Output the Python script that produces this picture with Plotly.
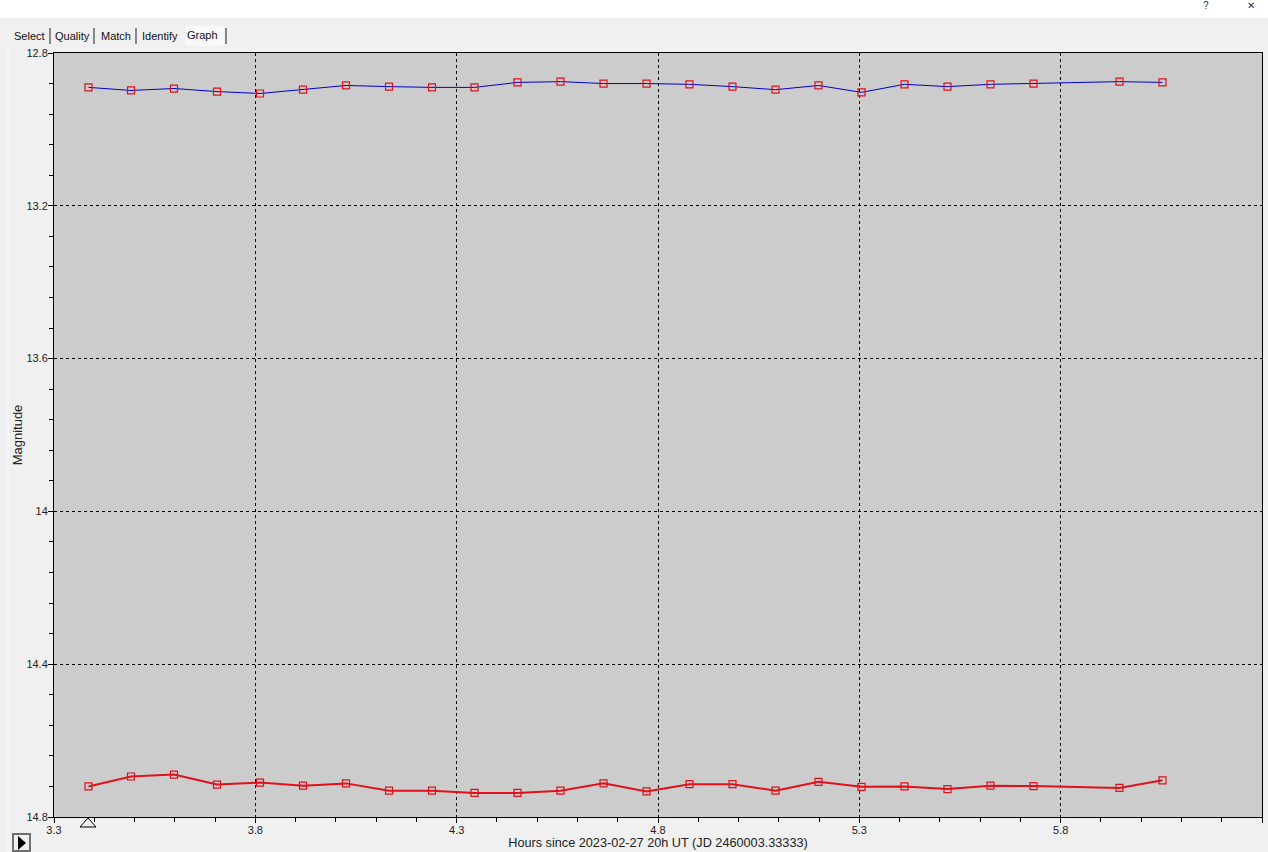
import plotly.graph_objects as go

W, H = 1268, 852
L, R, T, B = 54, 1262, 53, 817
FONT = "Liberation Sans"

hours = [3.3857, 3.4912, 3.598, 3.7048, 3.8116, 3.9184, 4.0252, 4.132, 4.2387, 4.3443,
         4.4511, 4.5579, 4.6647, 4.7715, 4.8782, 4.985, 5.0918, 5.1986, 5.3054, 5.4122,
         5.5189, 5.6257, 5.7325, 5.9461, 6.0529]
comparison_mag = [12.890, 12.898, 12.893, 12.901, 12.906, 12.896, 12.885, 12.888, 12.890, 12.890,
                  12.877, 12.875, 12.880, 12.880, 12.882, 12.888, 12.896, 12.885, 12.903, 12.882,
                  12.888, 12.882, 12.880, 12.875, 12.877]
target_mag = [14.720, 14.694, 14.689, 14.715, 14.710, 14.718, 14.712, 14.731, 14.731, 14.737,
              14.737, 14.731, 14.712, 14.733, 14.714, 14.714, 14.731, 14.708, 14.721, 14.720,
              14.727, 14.718, 14.719, 14.724, 14.704]
tabs = ["Select", "Quality", "Match", "Identify", "Graph"]
tab_centers = [29.5, 72.5, 115.5, 159.5, 202.5]
tab_seps = [50, 94, 136, 226]

def px(x): return (x - L) / (R - L)
def py(y): return 1 - (y - T) / (B - T)

fig = go.Figure()
fig.add_trace(go.Scatter(x=hours, y=comparison_mag, mode="lines+markers",
                         line=dict(color="#0000cc", width=1),
                         marker=dict(symbol="square-open", size=7, color="#e0101c", line=dict(width=1.2, color="#e0101c"))))
fig.add_trace(go.Scatter(x=hours, y=target_mag, mode="lines+markers",
                         line=dict(color="#e0101c", width=2),
                         marker=dict(symbol="square-open", size=7, color="#e0101c", line=dict(width=1.2, color="#e0101c"))))

shapes = [
    dict(type="rect", xref="paper", yref="paper", x0=px(0), x1=px(W), y0=py(18), y1=py(0), fillcolor="white", line_width=0, layer="below"),
    dict(type="rect", xref="paper", yref="paper", x0=px(185), x1=px(224), y0=py(46), y1=py(26), fillcolor="#f8f8f8", line_width=0, layer="below"),
    dict(type="line", xref="paper", yref="paper", x0=px(8), x1=px(8), y0=py(46), y1=py(H), line=dict(color="#fafafa", width=1), layer="below"),
    # selected-point triangle under the axis
    dict(type="path", xref="paper", yref="paper",
         path=f"M {px(80)} {py(827)} L {px(88)} {py(818)} L {px(96)} {py(827)} Z",
         fillcolor="#f0f0f0", line=dict(color="black", width=1)),
    # play button
    dict(type="rect", xref="paper", yref="paper", x0=px(13), x1=px(30), y0=py(851), y1=py(834),
         fillcolor="#f0f0f0", line=dict(color="#707070", width=2)),
    dict(type="path", xref="paper", yref="paper",
         path=f"M {px(18)} {py(836)} L {px(26)} {py(843)} L {px(18)} {py(850)} Z",
         fillcolor="black", line_width=0),
]
for s in tab_seps:
    shapes.append(dict(type="line", xref="paper", yref="paper", x0=px(s), x1=px(s), y0=py(44), y1=py(28),
                       line=dict(color="#666666", width=1.5)))

annotations = [
    dict(x=px(c), y=py(36 if t != "Graph" else 35), xref="paper", yref="paper", text=t, showarrow=False,
         font=dict(family=FONT, size=11, color="#111111"), xanchor="center", yanchor="middle")
    for t, c in zip(tabs, tab_centers)
]
annotations += [
    dict(x=px(1206), y=py(6), xref="paper", yref="paper", text="?", showarrow=False,
         font=dict(family=FONT, size=10, color="#333333"), xanchor="center", yanchor="middle"),
    dict(x=px(1251), y=py(6), xref="paper", yref="paper", text="✕", showarrow=False,
         font=dict(family=FONT, size=10, color="#333333"), xanchor="center", yanchor="middle"),
]

axis_common = dict(showline=True, linecolor="black", linewidth=1, mirror=True, showgrid=True,
                   gridcolor="black", griddash="3px,3px", gridwidth=1, zeroline=False, automargin=False,
                   ticks="outside", tickcolor="black", ticklen=5, tickwidth=1, ticklabelstandoff=-2,
                   tickfont=dict(family=FONT, size=11, color="#222222"))

fig.update_layout(
    width=W, height=H, autosize=False, showlegend=False,
    paper_bgcolor="#f0f0f0", plot_bgcolor="#cccccc",
    margin=dict(l=L, r=W - R, t=T, b=H - B, pad=0),
    hovermode=False,
    xaxis=dict(range=[3.3, 6.3], tick0=3.3, dtick=0.5,
               minor=dict(tick0=3.3, dtick=0.1, ticks="outside", ticklen=4, tickcolor="black", showgrid=False),
               title=dict(text="Hours since 2023-02-27 20h UT (JD 2460003.33333)",
                          font=dict(family=FONT, size=12.7, color="#222222"), standoff=1),
               **axis_common),
    yaxis=dict(range=[14.8, 12.8], tick0=12.8, dtick=0.4,
               minor=dict(tick0=12.8, dtick=0.08, ticks="outside", ticklen=4, tickcolor="black", showgrid=False),
               title=dict(text="Magnitude", font=dict(family=FONT, size=13, color="#222222"), standoff=0),
               **axis_common),
    shapes=shapes, annotations=annotations,
)

fig.write_html("out.html", config=dict(displayModeBar=False),
               post_script="document.body.style.margin='0';document.body.style.overflow='hidden';")
